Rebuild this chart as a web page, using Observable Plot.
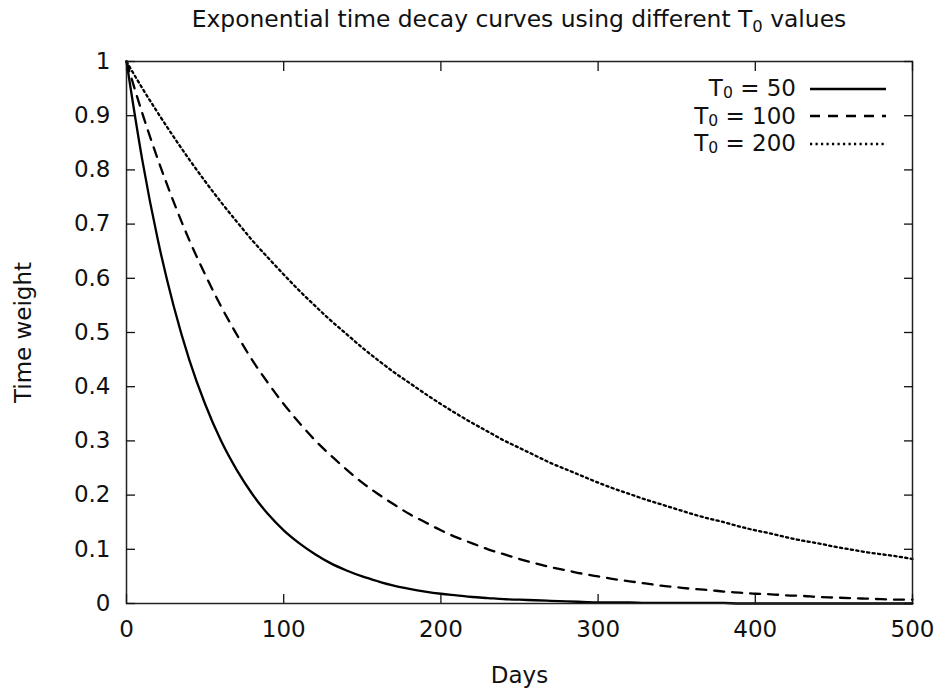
<!DOCTYPE html>
<html><head><meta charset="utf-8">
<script src="https://cdn.jsdelivr.net/npm/d3@7"></script>
<script src="https://cdn.jsdelivr.net/npm/@observablehq/plot@0.6"></script>
<style>
body{margin:0;background:#fff;font-family:"DejaVu Sans",sans-serif;}
#wrap{position:relative;width:940px;height:689px;}
#title{position:absolute;left:0;width:1038px;top:4px;line-height:30px;text-align:center;font-size:23.4px;color:#111;white-space:nowrap;}
#legend{position:absolute;right:54px;top:75px;font-size:23px;color:#111;}
.row{display:flex;align-items:center;justify-content:flex-end;height:27.5px;line-height:27.5px;}
.row svg{margin-left:14px;}
sub{font-size:70%;vertical-align:-0.3em;line-height:0;}
#legend sub{font-size:68%;vertical-align:-0.15em;}
</style></head>
<body><div id="wrap"><div id="title">Exponential time decay curves using different T<sub>0</sub> values</div><div id="legend"></div><div id="chart"></div></div>
<script>
const days = [0,10,20,30,40,50,60,70,80,90,100,110,120,130,140,150,160,170,180,190,200,210,220,230,240,250,260,270,280,290,300,310,320,330,340,350,360,370,380,390,400,410,420,430,440,450,460,470,480,490,500];
const w50 = [1,0.819,0.670,0.549,0.449,0.368,0.301,0.247,0.202,0.165,0.135,0.111,0.091,0.074,0.061,0.050,0.041,0.033,0.027,0.022,0.018,0.015,0.012,0.010,0.008,0.007,0.006,0.005,0.004,0.003,0.002,0.002,0.002,0.001,0.001,0.001,0.001,0.001,0.001,0,0,0,0,0,0,0,0,0,0,0,0];
const w100 = [1,0.905,0.819,0.741,0.670,0.607,0.549,0.497,0.449,0.407,0.368,0.333,0.301,0.273,0.247,0.223,0.202,0.183,0.165,0.150,0.135,0.122,0.111,0.100,0.091,0.082,0.074,0.067,0.061,0.055,0.050,0.045,0.041,0.037,0.033,0.030,0.027,0.025,0.022,0.020,0.018,0.017,0.015,0.014,0.012,0.011,0.010,0.009,0.008,0.007,0.007];
const w200 = [1,0.951,0.905,0.861,0.819,0.779,0.741,0.705,0.670,0.638,0.607,0.577,0.549,0.522,0.497,0.472,0.449,0.427,0.407,0.387,0.368,0.350,0.333,0.317,0.301,0.287,0.273,0.259,0.247,0.235,0.223,0.212,0.202,0.192,0.183,0.174,0.165,0.157,0.150,0.142,0.135,0.129,0.122,0.116,0.111,0.105,0.100,0.095,0.091,0.087,0.082];
const seriesNames = ["50","100","200"];
const xTicks = [0,100,200,300,400,500];
const yTicks = [0,0.1,0.2,0.3,0.4,0.5,0.6,0.7,0.8,0.9,1];
const dashes = {"50": null, "100": "10,8", "200": "2.2,3.3"};

const series = [w50, w100, w200];
const rows = [];
seriesNames.forEach((s, i) => days.forEach((d, j) => rows.push({T0: s, day: d, w: series[i][j]})));

const lines = seriesNames.map(s => Plot.line(rows.filter(r => r.T0 === s), {
  x: "day", y: "w", stroke: "black", strokeWidth: 2.3, strokeDasharray: dashes[s], curve: "monotone-x"
}));

const chart = Plot.plot({
  width: 940, height: 689,
  marginLeft: 126, marginRight: 28, marginTop: 61, marginBottom: 86,
  style: {fontFamily: "DejaVu Sans, sans-serif", fontSize: "23px", color: "#111", background: "white"},
  x: {domain: [0, 500]},
  y: {domain: [0, 1]},
  marks: [
    ...lines,
    Plot.frame({stroke: "#222", strokeWidth: 1.5}),
    Plot.axisX(xTicks, {anchor: "bottom", tickSize: 0, tickPadding: 17, label: "Days", labelAnchor: "center", labelArrow: "none", labelOffset: 79, fontSize: 23}),
    Plot.axisX(xTicks, {anchor: "bottom", tickSize: -9, text: null, label: null, strokeWidth: 1.3}),
    Plot.axisX(xTicks, {anchor: "top", tickSize: -9, text: null, label: null, strokeWidth: 1.3}),
    Plot.axisY(yTicks, {anchor: "left", tickSize: 0, tickPadding: 16, tickFormat: d => String(+d.toFixed(1)), label: "Time weight", labelAnchor: "center", labelArrow: "none", labelOffset: 112, fontSize: 23}),
    Plot.axisY(yTicks, {anchor: "left", tickSize: -9, text: null, label: null, strokeWidth: 1.3}),
    Plot.axisY(yTicks, {anchor: "right", tickSize: -9, text: null, label: null, strokeWidth: 1.3})
  ]
});
document.getElementById("chart").appendChild(chart);

const legend = document.getElementById("legend");
seriesNames.forEach(s => {
  const row = document.createElement("div");
  row.className = "row";
  row.innerHTML = `<span>T<sub>0</sub> = ${s}</span><svg width="76" height="10"><line x1="0" x2="76" y1="5" y2="5" stroke="black" stroke-width="2.3" ${dashes[s] ? `stroke-dasharray="${dashes[s]}"` : ""}/></svg>`;
  legend.appendChild(row);
});
</script></body></html>
